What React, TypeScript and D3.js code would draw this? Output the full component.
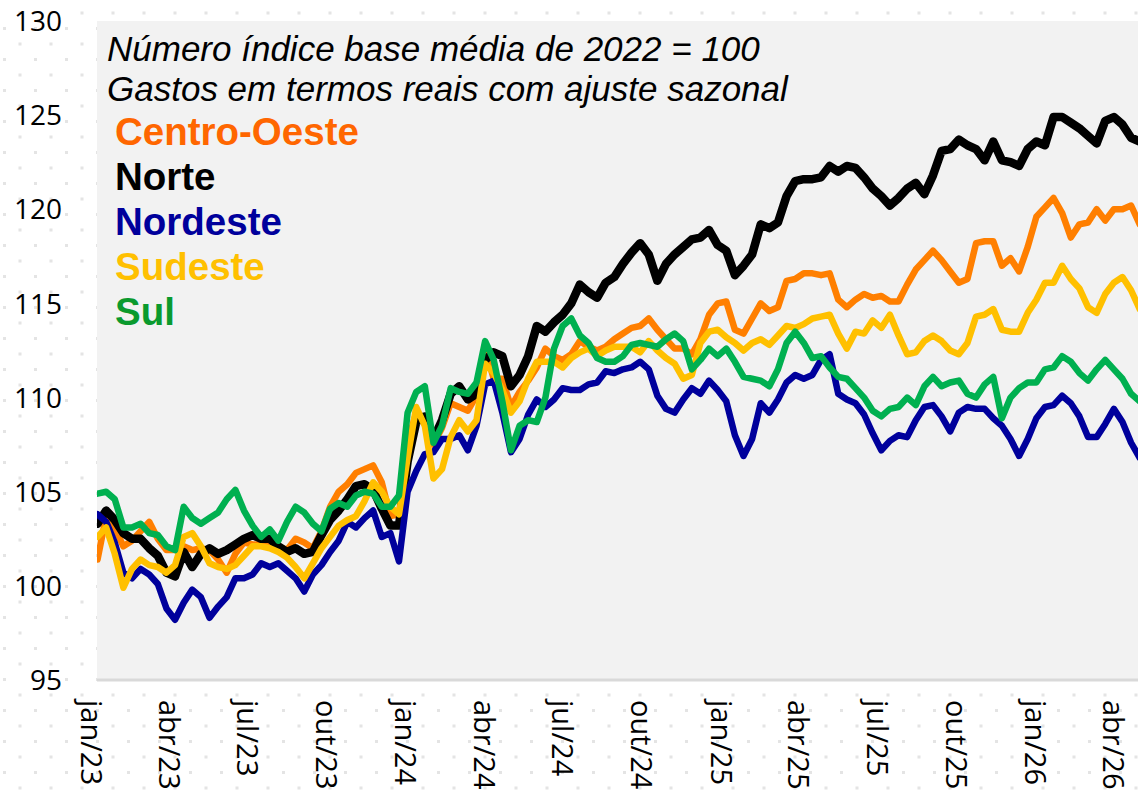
import React from "react";
import * as d3 from "d3";

// ---- data, one value every STEP_DAYS days from START ----
const START = "2023-01-08";
const STEP_DAYS = 10;

const centroOeste = [
  101.4, 103.7, 103.1, 102.1, 102.4, 102.9, 103.4, 102.5, 101.9, 101.9,
  102.1, 101.9, 102.0, 101.9, 101.4, 100.7, 101.7, 102.3, 102.2, 102.2,
  102.2, 102.1, 101.9, 102.5, 102.3, 102.0, 102.9, 104.2, 105.0, 105.4,
  106.0, 106.2, 106.4, 105.5, 103.7, 103.8, 107.6, 109.2, 108.9, 107.5,
  108.4, 109.7, 109.5, 109.3, 110.1, 112.6, 111.0, 111.0, 109.5, 110.3,
  110.9, 111.6, 112.6, 112.2, 112.0, 112.3, 113.0, 112.7, 112.5, 112.7,
  113.1, 113.4, 113.7, 113.8, 114.2, 113.6, 113.1, 112.6, 112.6, 112.3,
  113.1, 114.4, 115.0, 115.1, 113.6, 113.4, 114.2, 115.0, 114.6, 114.8,
  116.2, 116.3, 116.6, 116.6, 116.5, 116.6, 115.2, 114.8, 115.2, 115.5,
  115.3, 115.4, 115.1, 115.1, 116.0, 116.8, 117.3, 117.8, 117.3, 116.7,
  116.1, 116.3, 118.2, 118.3, 118.3, 117.0, 117.4, 116.7, 118.0, 119.6,
  120.1, 120.6, 119.8, 118.5, 119.2, 119.3, 120.0, 119.4, 120.0, 120.0,
  120.2, 119.2,
];

const norte = [
  103.3, 104.0, 103.5, 102.8, 102.5, 102.5, 102.0, 101.6, 100.7, 100.5,
  101.8, 101.0, 101.7, 102.0, 101.7, 101.9, 102.2, 102.5, 102.7, 102.5,
  102.5, 102.1, 101.8, 102.0, 101.7, 101.8, 102.7, 103.5, 104.0, 104.6,
  105.3, 105.4, 105.1, 104.1, 103.2, 103.2, 106.6, 108.7, 109.0, 107.8,
  108.8, 110.2, 110.6, 109.9, 110.2, 112.0, 112.4, 112.2, 110.6, 111.2,
  112.2, 113.8, 113.5, 114.0, 114.4, 115.0, 116.0, 115.6, 115.3, 116.1,
  116.4, 117.1, 117.7, 118.2, 117.6, 116.2, 117.1, 117.6, 118.0, 118.4,
  118.5, 118.9, 118.1, 117.8, 116.5, 117.0, 117.6, 119.2, 119.0, 119.3,
  120.7, 121.5, 121.6, 121.6, 121.7, 122.3, 122.0, 122.3, 122.2, 121.7,
  121.1, 120.7, 120.2, 120.6, 121.1, 121.4, 120.8, 121.8, 123.1, 123.2,
  123.7, 123.4, 123.2, 122.6, 123.6, 122.6, 122.5, 122.3, 123.2, 123.6,
  123.4, 124.9, 124.9, 124.6, 124.3, 123.9, 123.5, 124.7, 124.9, 124.5,
  123.8, 123.6,
];

const nordeste = [
  103.8, 103.4, 102.3, 100.7, 100.4, 100.9, 100.6, 100.1, 98.8, 98.2,
  99.1, 99.8, 99.4, 98.3, 98.9, 99.4, 100.4, 100.4, 100.6, 101.2,
  101.0, 101.2, 100.8, 100.4, 99.7, 100.6, 101.1, 101.8, 102.4, 103.4,
  103.1, 103.6, 104.0, 102.6, 102.8, 101.3, 105.0, 106.1, 107.0, 107.1,
  107.8, 107.8, 108.0, 107.2, 108.5, 110.7, 110.9, 109.2, 107.1, 107.8,
  109.1, 109.9, 109.5, 109.9, 110.5, 110.4, 110.4, 110.7, 110.8, 111.4,
  111.3, 111.5, 111.6, 111.9, 111.5, 110.1, 109.4, 109.2, 109.9, 110.5,
  110.2, 110.9, 110.4, 109.8, 108.0, 106.9, 107.8, 109.7, 109.2, 109.9,
  110.8, 111.2, 111.0, 111.2, 112.0, 112.3, 110.2, 109.9, 109.7, 109.1,
  108.1, 107.2, 107.7, 108.0, 107.9, 108.8, 109.5, 109.6, 109.0, 108.2,
  109.2, 109.5, 109.4, 109.4, 108.9, 108.5, 107.8, 106.9, 107.8, 108.9,
  109.5, 109.6, 110.1, 109.7, 109.0, 107.9, 107.9, 108.6, 109.4, 108.7,
  107.6, 106.8,
];

const sudeste = [
  102.6, 103.1, 101.7, 99.9, 100.9, 101.4, 101.1, 101.0, 100.7, 101.1,
  102.6, 102.8, 102.1, 101.2, 101.0, 100.9, 101.1, 101.6, 102.1, 102.1,
  102.0, 101.8, 101.5, 101.0, 100.4, 101.2, 102.0, 102.6, 103.2, 103.5,
  103.7, 104.5, 105.5, 105.0, 104.2, 103.8, 106.8, 109.5, 108.5, 105.7,
  106.2, 107.9, 108.8, 108.2, 108.8, 111.8, 111.3, 110.4, 109.2, 109.8,
  111.0, 111.9, 111.9, 111.9, 111.6, 112.1, 112.4, 112.6, 112.2, 112.5,
  112.7, 112.7, 112.7, 112.4, 113.0, 112.5, 112.1, 111.8, 111.0, 111.2,
  112.9, 113.5, 113.6, 113.2, 112.9, 112.5, 112.9, 113.1, 112.8, 113.3,
  113.8, 113.7, 113.9, 114.2, 114.3, 114.4, 113.4, 112.6, 113.5, 113.4,
  114.1, 113.7, 114.4, 113.3, 112.3, 112.4, 113.0, 113.3, 113.0, 112.5,
  112.3, 112.9, 114.3, 114.4, 114.7, 113.6, 113.5, 113.5, 114.5, 115.2,
  116.1, 116.1, 117.0, 116.3, 115.8, 114.8, 114.5, 115.5, 116.1, 116.4,
  115.7, 114.7,
];

const sul = [
  104.9, 105.0, 104.6, 103.1, 103.1, 103.3, 102.8, 102.7, 102.1, 101.9,
  104.2, 103.6, 103.3, 103.6, 103.9, 104.6, 105.1, 104.0, 103.2, 102.6,
  103.0, 102.4, 103.4, 104.2, 103.9, 103.3, 102.9, 104.1, 104.4, 104.2,
  104.8, 105.0, 104.9, 104.2, 104.2, 104.8, 109.2, 110.3, 110.6, 107.6,
  108.5, 110.5, 110.3, 110.2, 110.8, 113.0, 112.0, 109.8, 107.2, 108.5,
  108.8, 108.7, 110.0, 112.6, 113.8, 114.2, 113.3, 112.9, 112.1, 111.9,
  111.9, 112.2, 112.8, 112.9, 112.8, 112.7, 113.1, 113.4, 113.0, 111.5,
  112.0, 112.6, 112.2, 112.6, 111.9, 111.1, 111.0, 110.9, 110.6, 111.5,
  112.9, 113.5, 112.9, 112.1, 112.2, 111.6, 111.1, 111.0, 110.5, 110.0,
  109.3, 109.0, 109.4, 109.5, 110.0, 109.6, 110.6, 111.1, 110.6, 110.8,
  110.9, 110.2, 110.0, 110.7, 111.1, 108.9, 110.0, 110.5, 110.8, 110.8,
  111.5, 111.6, 112.2, 111.9, 111.3, 110.9, 111.5, 112.0, 111.5, 111.0,
  110.2, 109.8,
];

const SERIES_NAMES = ["Centro-Oeste", "Norte", "Nordeste", "Sudeste", "Sul"];
const SERIES_VALUES = [centroOeste, norte, nordeste, sudeste, sul];
const LINE_COLORS = ["#FF7F00", "#000000", "#00009C", "#FFC000", "#00B050"];
const LABEL_COLORS = ["#FF6600", "#000000", "#00009C", "#FFC000", "#0A9A2E"];
const LINE_WIDTHS = [6.5, 8.5, 6.5, 6.5, 6.5];

const TICK_DATES = [
  "2023-01-01", "2023-04-01", "2023-07-01", "2023-10-01",
  "2024-01-01", "2024-04-01", "2024-07-01", "2024-10-01",
  "2025-01-01", "2025-04-01", "2025-07-01", "2025-10-01",
  "2026-01-01", "2026-04-01",
];
const TICK_LABELS = [
  "jan/23", "abr/23", "jul/23", "out/23",
  "jan/24", "abr/24", "jul/24", "out/24",
  "jan/25", "abr/25", "jul/25", "out/25",
  "jan/26", "abr/26",
];
const Y_TICKS = [95, 100, 105, 110, 115, 120, 125, 130];

const TITLE_LINES = [
  "Número índice base média de 2022 = 100",
  "Gastos em termos reais com ajuste sazonal",
];

export default function App() {
  const W = 1138;
  const H = 802;
  const plot = { left: 97, right: 1138, top: 21, bottom: 680 };
  const parse = d3.timeParse("%Y-%m-%d");
  const start = parse(START) as Date;

  const x = d3
    .scaleTime()
    .domain([parse("2023-01-01") as Date, parse("2026-04-01") as Date])
    .range([91.5, 1113]);
  const y = d3.scaleLinear().domain([95, 130]).range([plot.bottom, plot.top]);

  const dateAt = (i: number) => d3.timeDay.offset(start, i * STEP_DAYS);
  const line = d3
    .line<number>()
    .x((_, i) => x(dateAt(i)))
    .y((d) => y(d))
    .curve(d3.curveLinear);

  const sans = "'Liberation Sans', Arial, sans-serif";
  const tickFont = "'Open Sans', 'Noto Sans', sans-serif";

  return (
    <svg
      width={W}
      height={H}
      style={{ position: "absolute", left: 0, top: 0, display: "block" }}
    >
      <defs>
        <pattern id="dots" patternUnits="userSpaceOnUse" x={0} y={0} width={31} height={31}>
          <rect x={18.5} y={11.5} width={3} height={3} fill="#e4e4e4" />
          <rect x={3} y={27} width={3} height={3} fill="#e4e4e4" />
        </pattern>
        <clipPath id="plotClip">
          <rect x={plot.left} y={0} width={plot.right - plot.left} height={plot.bottom} />
        </clipPath>
      </defs>
      <rect x={0} y={0} width={W} height={H} fill="#ffffff" />
      <rect x={0} y={0} width={W} height={H} fill="url(#dots)" />
      <rect
        x={plot.left}
        y={plot.top}
        width={plot.right - plot.left}
        height={plot.bottom - plot.top}
        fill="#f2f2f2"
      />
      <line
        x1={plot.left}
        x2={plot.right}
        y1={plot.bottom}
        y2={plot.bottom}
        stroke="#d9d9d9"
        strokeWidth={3}
      />

      {Y_TICKS.map((t) => (
        <text
          key={t}
          x={62}
          y={y(t)}
          dy="0.36em"
          textAnchor="end"
          fontFamily={tickFont}
          fontSize={28}
          fill="#000"
        >
          {t}
        </text>
      ))}

      {TICK_DATES.map((d, i) => {
        const tx = x(parse(d) as Date);
        return (
          <text
            key={d}
            transform={`translate(${tx},${700}) rotate(90)`}
            dy="0.36em"
            textAnchor="start"
            fontFamily={tickFont}
            fontSize={29}
            fill="#000"
          >
            {TICK_LABELS[i]}
          </text>
        );
      })}

      <g clipPath="url(#plotClip)">
        {SERIES_VALUES.map((vals, k) => (
          <path
            key={SERIES_NAMES[k]}
            d={line(vals) || ""}
            fill="none"
            stroke={LINE_COLORS[k]}
            strokeWidth={LINE_WIDTHS[k]}
            strokeLinejoin="round"
            strokeLinecap="round"
          />
        ))}
      </g>

      {TITLE_LINES.map((t, i) => (
        <text
          key={t}
          x={107}
          y={61 + i * 40}
          fontFamily={sans}
          fontStyle="italic"
          fontSize={35}
          fill="#000"
        >
          {t}
        </text>
      ))}

      {SERIES_NAMES.map((n, k) => (
        <text
          key={n}
          x={115}
          y={145 + k * 45}
          fontFamily={sans}
          fontWeight="bold"
          fontSize={38.5}
          fill={LABEL_COLORS[k]}
        >
          {n}
        </text>
      ))}
    </svg>
  );
}
